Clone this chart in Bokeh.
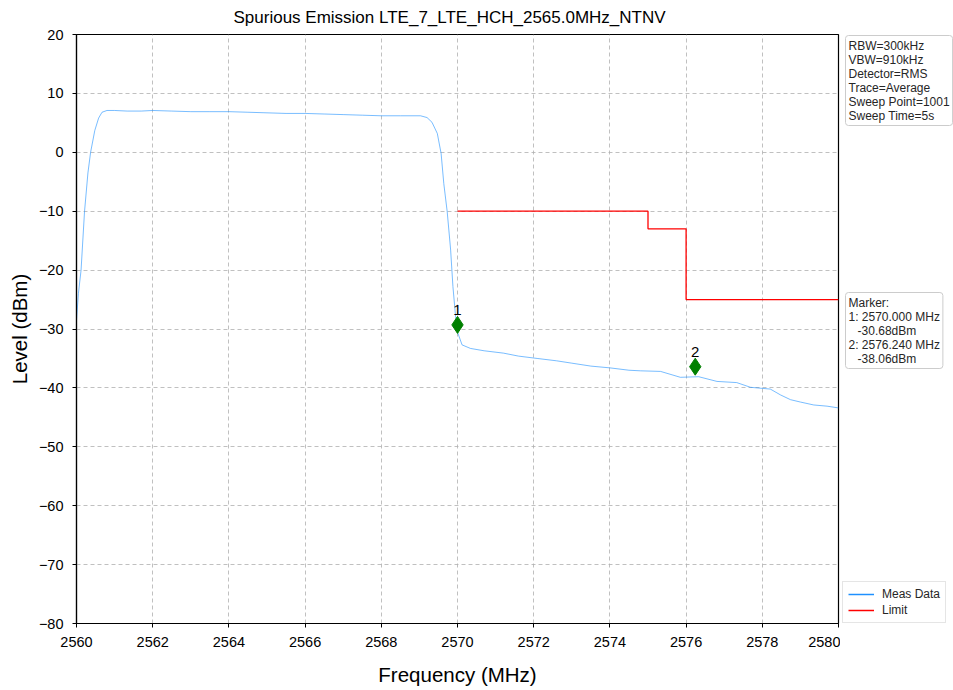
import numpy as np
from bokeh.plotting import figure
from bokeh.layouts import row
from bokeh.models import Label, Legend, LegendItem, FixedTicker, Range1d, ColumnDataSource
from bokeh.core.properties import value
from bokeh.embed import file_html
from bokeh.resources import INLINE

# ---- data ----
title_text = "Spurious Emission LTE_7_LTE_HCH_2565.0MHz_NTNV"

freq_mhz = [2560.00, 2560.05, 2560.12, 2560.21, 2560.30, 2560.37, 2560.48, 2560.58, 2560.67, 2560.80,
            2561.00, 2561.33, 2561.70, 2562.00, 2562.50, 2563.00, 2563.50, 2564.00, 2564.50, 2565.00,
            2565.50, 2566.00, 2566.50, 2567.00, 2567.50, 2568.00, 2568.50, 2569.03, 2569.20, 2569.33,
            2569.47, 2569.57, 2569.64, 2569.73, 2569.82, 2569.88, 2569.95, 2570.01, 2570.12, 2570.34,
            2570.70, 2571.21, 2571.60, 2572.09, 2572.60, 2573.00, 2573.50, 2574.00, 2574.50, 2574.80,
            2575.33, 2575.85, 2576.33, 2576.81, 2577.33, 2577.69, 2578.21, 2578.48, 2578.74, 2579.00,
            2579.35, 2579.70, 2580.00]
level_dbm = [-28.5, -24.0, -20.0, -10.1, -3.5, 0.0, 3.7, 5.8, 6.8, 7.1,
             7.1, 7.0, 7.0, 7.1, 7.0, 6.9, 6.9, 6.9, 6.8, 6.7,
             6.6, 6.6, 6.5, 6.4, 6.3, 6.2, 6.2, 6.2, 5.9, 5.1,
             3.2, -0.2, -5.3, -10.1, -16.6, -22.8, -27.9, -30.7, -32.7, -33.3,
             -33.7, -34.1, -34.6, -35.0, -35.4, -35.8, -36.3, -36.6, -37.0, -37.1,
             -37.2, -38.2, -38.1, -38.9, -39.1, -39.9, -40.2, -41.2, -42.0, -42.4,
             -42.9, -43.1, -43.4]

limit_freq = [2570, 2575, 2575, 2576, 2576, 2580]
limit_level = [-10, -10, -13, -13, -25, -25]

marker_ids = ["1", "2"]
marker_freq = [2570.00, 2576.24]
marker_plot_level = [-29.3, -36.4]

x_ticks = [2560, 2562, 2564, 2566, 2568, 2570, 2572, 2574, 2576, 2578, 2580]
y_ticks = [-80, -70, -60, -50, -40, -30, -20, -10, 0, 10, 20]

IND = "\u00a0\u00a0\u2009"
settings_text = "RBW=300kHz\nVBW=910kHz\nDetector=RMS\nTrace=Average\nSweep Point=1001\nSweep Time=5s"
marker_text = ("Marker:\n1: 2570.000 MHz\n" + IND + "-30.68dBm\n2: 2576.240 MHz\n" + IND + "-38.06dBm")
legend_labels = ["Meas Data", "Limit"]

FONT = "Liberation Sans"
TOTAL_H = 688
FRAME_BOTTOM = 624   # page y of the frame's bottom edge (top border 34 + frame 590)

p = figure(width=840, height=TOTAL_H, output_backend="svg", toolbar_location=None,
           x_range=Range1d(2560, 2580), y_range=Range1d(-80, 20),
           min_border_left=76, min_border_right=2, min_border_top=34, min_border_bottom=64)
p.background_fill_color = "white"
p.border_fill_color = "white"
p.outline_line_color = "black"
p.outline_line_width = 1.2

p.title.text = title_text
p.title.align = "left"
p.title.offset = 157
p.title.vertical_align = "middle"
p.title.standoff = 13
p.title.text_font = FONT
p.title.text_font_size = "17px"
p.title.text_font_style = "normal"
p.title.text_color = "black"

# grid
for g in (p.xgrid, p.ygrid):
    g.grid_line_color = "#b0b0b0"
    g.grid_line_dash = "4 3"
    g.grid_line_width = 0.8

# axes
p.xaxis.ticker = FixedTicker(ticks=x_ticks)
p.yaxis.ticker = FixedTicker(ticks=y_ticks)
p.yaxis.major_label_overrides = {v: str(v).replace("-", "\u2212") for v in y_ticks}
for ax in (p.xaxis, p.yaxis):
    ax.axis_line_color = "black"
    ax.axis_line_width = 1.2
    ax.major_tick_line_color = "black"
    ax.major_tick_in = 0
    ax.major_tick_out = 4
    ax.minor_tick_line_color = None
    ax.major_label_text_font = FONT
    ax.major_label_text_font_size = "14.5px"
    ax.major_label_text_color = "black"
    ax.axis_label_text_font = FONT
    ax.axis_label_text_font_size = "20.5px"
    ax.axis_label_text_font_style = "normal"
    ax.axis_label_text_color = "black"
p.xaxis.axis_label = "Frequency (MHz)"
p.yaxis.axis_label = "Level (dBm)"
p.xaxis.major_label_standoff = 9
p.yaxis.major_label_standoff = 9
p.xaxis.axis_label_standoff = 13
p.yaxis.axis_label_standoff = 5

# data
meas = p.line(freq_mhz, level_dbm, line_color="#1E90FF", line_width=0.8, line_alpha=0.75)
lim = p.line(limit_freq, limit_level, line_color="#ff0000", line_width=1.3)

msrc = ColumnDataSource(dict(x=marker_freq, y=marker_plot_level, t=marker_ids))
p.scatter("x", "y", source=msrc, marker="diamond", size=17, fill_color="#008000", line_color="#008000")
p.text("x", "y", text="t", source=msrc, y_offset=-15, text_align="center", text_baseline="middle",
       text_font=value(FONT), text_font_size="15px", text_color="black")

# ---- side panel for the info boxes and legend ----
SIDE_W = 953 - 840
q = figure(width=SIDE_W, height=TOTAL_H, output_backend="svg", toolbar_location=None,
           x_range=Range1d(0, 1), y_range=Range1d(0, 1),
           min_border_left=0, min_border_right=0, min_border_top=34, min_border_bottom=64)
q.axis.visible = False
q.grid.visible = False
q.outline_line_color = None
q.background_fill_color = "white"
q.border_fill_color = "white"

box_kw = dict(x_units="screen", y_units="screen", text_align="left", text_baseline="top",
              text_font=FONT, text_font_size="12px", text_color="#262626",
              border_line_color="#cccccc", border_line_width=1, background_fill_color="white",
              padding=3, border_radius=3, text_line_height=1.0)
q.add_layout(Label(x=5, y=FRAME_BOTTOM - 36, text=settings_text, **box_kw))
q.add_layout(Label(x=5, y=FRAME_BOTTOM - 293, text=marker_text, **box_kw))

leg_src = ColumnDataSource(dict(x=np.array([np.nan]), y=np.array([np.nan])))
leg_meas = q.line("x", "y", source=leg_src, line_color="#1E90FF", line_width=1.5)
leg_lim = q.line("x", "y", source=leg_src, line_color="#ff0000", line_width=1.5)
legend = Legend(items=[LegendItem(label=legend_labels[0], renderers=[leg_meas]),
                       LegendItem(label=legend_labels[1], renderers=[leg_lim])],
                location=(2, 0), orientation="vertical")
legend.label_text_font = FONT
legend.label_text_font_size = "12px"
legend.label_text_color = "#262626"
legend.label_height = 14
legend.glyph_height = 14
legend.glyph_width = 26
legend.label_standoff = 8
legend.spacing = 2
legend.padding = 5
legend.margin = 0
legend.border_line_color = "#cccccc"
legend.background_fill_color = "white"
legend.background_fill_alpha = 1
q.add_layout(legend)

layout = row(p, q, spacing=0)
open("out.html", "w").write(file_html(layout, INLINE))
